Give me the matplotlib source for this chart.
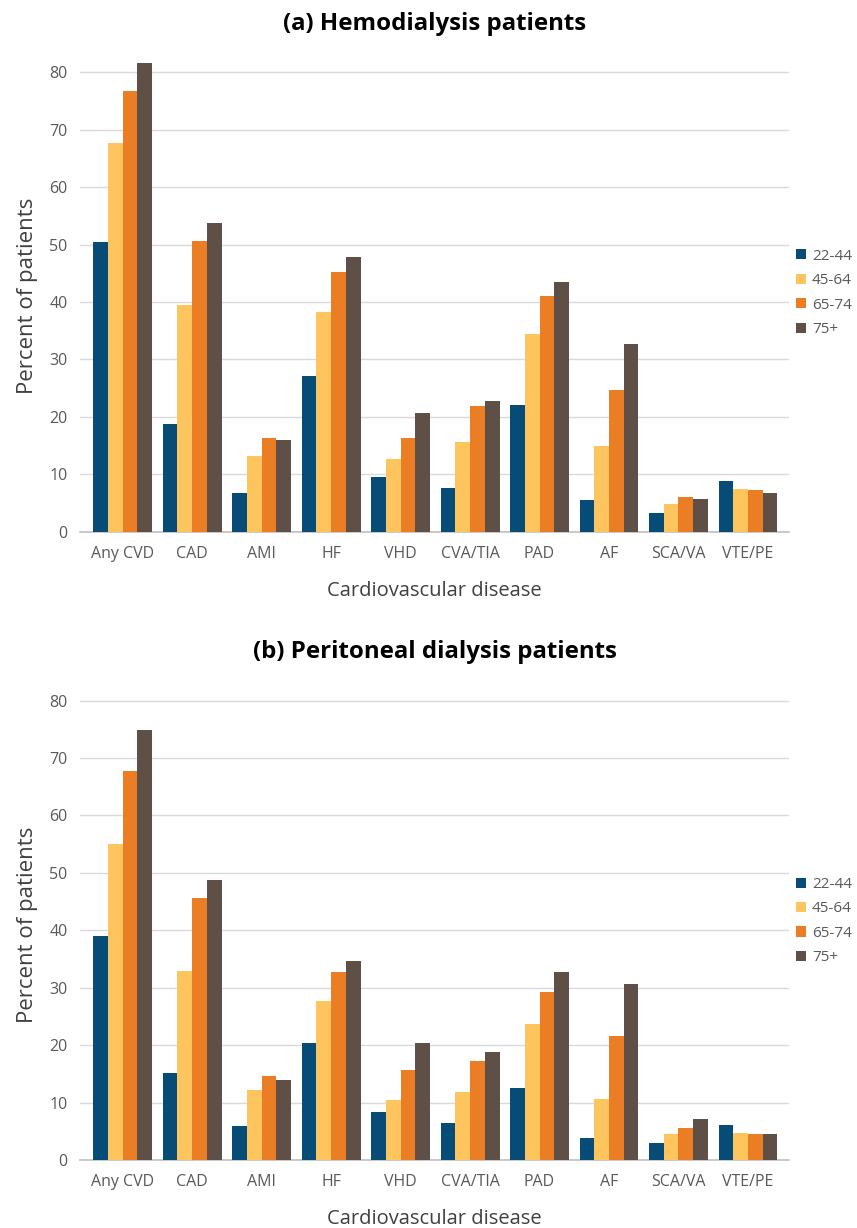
import numpy as np
import matplotlib.pyplot as plt

# CVD prevalence by age group, hemodialysis vs peritoneal dialysis
diseases = ['Any CVD', 'CAD', 'AMI', 'HF', 'VHD', 'CVA/TIA', 'PAD', 'AF', 'SCA/VA', 'VTE/PE']
ages = ['22-44', '45-64', '65-74', '75+']
colors = ['#074C77', '#FEC45E', '#EB7E24', '#5E5047']

hd_22_44 = [50.5, 18.8, 6.7, 27.2, 9.5, 7.6, 22.0, 5.6, 3.3, 8.8]
hd_45_64 = [67.6, 39.4, 13.2, 38.2, 12.6, 15.6, 34.4, 14.9, 4.9, 7.4]
hd_65_74 = [76.8, 50.7, 16.4, 45.2, 16.4, 21.9, 41.1, 24.6, 6.1, 7.2]
hd_75 = [81.6, 53.7, 16.0, 47.8, 20.7, 22.8, 43.5, 32.6, 5.7, 6.8]

pd_22_44 = [39.0, 15.2, 5.9, 20.3, 8.4, 6.4, 12.5, 3.8, 3.0, 6.1]
pd_45_64 = [55.0, 32.9, 12.2, 27.6, 10.5, 11.9, 23.7, 10.7, 4.5, 4.7]
pd_65_74 = [67.8, 45.6, 14.7, 32.8, 15.6, 17.3, 29.3, 21.6, 5.6, 4.5]
pd_75 = [74.8, 48.7, 13.9, 34.6, 20.4, 18.8, 32.8, 30.6, 7.1, 4.6]

plt.rcParams['font.family'] = ['Open Sans', 'DejaVu Sans']
txt = '#404040'


def draw_panel(ax, series, title):
    x = np.arange(len(diseases))
    w = 0.212
    for i, vals in enumerate(series):
        ax.bar(x + (i - 1.5) * w, vals, width=w, color=colors[i], label=ages[i],
               zorder=3, linewidth=0)
    ax.set_xlim(-0.615, len(diseases) - 0.405)
    ax.set_ylim(0, 82)
    ax.set_yticks(np.arange(0, 81, 10))
    ax.set_xticks(x)
    ax.set_xticklabels(diseases)
    ax.tick_params(axis='both', length=0, labelsize=11.5, labelcolor='#595959')
    ax.tick_params(axis='x', pad=10)
    ax.tick_params(axis='y', pad=9)
    ax.yaxis.grid(True, color='#d9d9d9', linewidth=1, zorder=0)
    for s in ['top', 'right', 'left']:
        ax.spines[s].set_visible(False)
    ax.spines['bottom'].set_color('#bfbfbf')
    ax.spines['bottom'].set_linewidth(1.2)
    ax.set_ylabel('Percent of patients', fontsize=16, color=txt, labelpad=8)
    ax.set_xlabel('Cardiovascular disease', fontsize=14.5, color=txt, labelpad=14)
    ax.set_title(title, fontsize=17.3, fontweight='bold', color='black', pad=22)
    ax.legend(loc='center left', bbox_to_anchor=(0.99, 0.507), frameon=False,
              fontsize=11, labelcolor='#595959', handlelength=0.65, handleheight=0.65,
              handletextpad=0.4, labelspacing=0.62)


fig = plt.figure(figsize=(8.57, 12.28), dpi=100)
ax1 = fig.add_axes([0.0933, 0.567, 0.8277, 0.3835])
ax2 = fig.add_axes([0.0933, 0.0554, 0.8277, 0.3835])

draw_panel(ax1, [hd_22_44, hd_45_64, hd_65_74, hd_75], '(a) Hemodialysis patients')
draw_panel(ax2, [pd_22_44, pd_45_64, pd_65_74, pd_75], '(b) Peritoneal dialysis patients')

fig.savefig('out.png', dpi=100)
